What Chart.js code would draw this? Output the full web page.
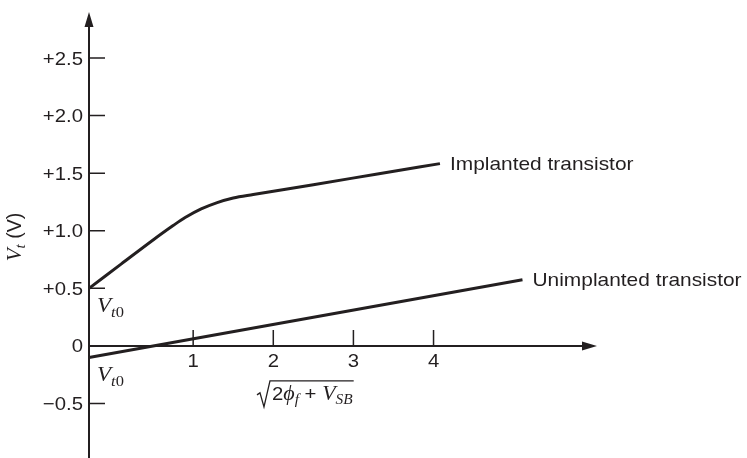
<!DOCTYPE html>
<html>
<head>
<meta charset="utf-8">
<script src="https://cdn.jsdelivr.net/npm/chart.js@4.4.1/dist/chart.umd.min.js"></script>
<style>
    html, body { margin: 0; padding: 0; background: #fff; }
    #wrap { width: 747px; height: 458px; }
</style>
</head>
<body>
<div id="wrap"><canvas id="myChart"></canvas></div>
<script>
// values; x is sqrt(2phi_f + V_SB), y is V_t in volts
const implantedX = [-0.3, 0.1, 0.5, 0.75, 0.9, 1.1, 1.3, 1.5, 1.75, 2.5, 3.3, 4.08];
const implantedY = [0.5, 0.71, 0.92, 1.045, 1.115, 1.19, 1.245, 1.285, 1.315, 1.4, 1.493, 1.583];
const unimplantedX = [-0.3, 5.11];
const unimplantedY = [-0.1, 0.574];

const seriesNames = ['Implanted transistor', 'Unimplanted transistor'];

const xTicks = [1, 2, 3, 4];
const xTickLabels = ['1', '2', '3', '4'];
const yTicks = [-0.5, 0, 0.5, 1, 1.5, 2, 2.5];
const yTickLabels = ['\u22120.5', '0', '+0.5', '+1.0', '+1.5', '+2.0', '+2.5'];

const ink = '#231f20';
const SANS = '"Liberation Sans", Arial, sans-serif';
const SERIF = '"Liberation Serif", "Times New Roman", serif';
const SX = 1.1; // the scanned figure is a little wider than tall

function toPoints(xs, ys) {
    return xs.map((v, i) => ({x: v, y: ys[i]}));
}

function runsWidth(ctx, runs) {
    let w = 0;
    runs.forEach(r => { ctx.font = r.font; w += ctx.measureText(r.text).width; });
    return w * SX;
}

// draws pieces of text (for subscripts / italics) on one baseline
function drawRuns(ctx, runs, x, y) {
    ctx.save();
    ctx.translate(x, y);
    ctx.scale(SX, 1);
    ctx.textAlign = 'left';
    ctx.textBaseline = 'alphabetic';
    let cx = 0;
    runs.forEach(r => {
        ctx.font = r.font;
        ctx.fillText(r.text, cx, r.dy || 0);
        cx += ctx.measureText(r.text).width;
    });
    ctx.restore();
}

const vt0 = [
    {text: 'V', font: 'italic 21px ' + SERIF},
    {text: 't', font: 'italic 15px ' + SERIF, dy: 5},
    {text: '0', font: '15px ' + SERIF, dy: 5},
];

const xTitle = [
    {text: '2', font: '18.5px ' + SANS},
    {text: '\u03D5', font: 'italic 20px ' + SERIF},
    {text: 'f', font: 'italic 14px ' + SERIF, dy: 4},
    {text: ' + ', font: '18.5px ' + SANS},
    {text: 'V', font: 'italic 20px ' + SERIF},
    {text: 'SB', font: 'italic 14px ' + SERIF, dy: 4},
];

const figurePlugin = {
    id: 'figure',
    beforeDatasetsDraw(chart) {
        const {ctx, chartArea: area, scales: {x, y}} = chart;
        const ax = area.left;
        const ay = y.getPixelForValue(0);
        ctx.save();
        ctx.strokeStyle = ink;
        ctx.fillStyle = ink;

        // axes with arrow heads
        ctx.lineWidth = 2;
        ctx.beginPath();
        ctx.moveTo(ax, chart.height);
        ctx.lineTo(ax, area.top + 10);
        ctx.moveTo(ax, ay);
        ctx.lineTo(area.right - 10, ay);
        ctx.stroke();
        ctx.beginPath();
        ctx.moveTo(ax, area.top);
        ctx.lineTo(ax - 4.5, area.top + 15);
        ctx.lineTo(ax + 4.5, area.top + 15);
        ctx.closePath();
        ctx.moveTo(area.right, ay);
        ctx.lineTo(area.right - 15, ay - 4.5);
        ctx.lineTo(area.right - 15, ay + 4.5);
        ctx.closePath();
        ctx.fill();

        // tick marks point into the plot
        ctx.lineWidth = 1.5;
        ctx.beginPath();
        yTicks.forEach(v => {
            const py = y.getPixelForValue(v);
            ctx.moveTo(ax, py);
            ctx.lineTo(ax + 16, py);
        });
        xTicks.forEach(v => {
            const px = x.getPixelForValue(v);
            ctx.moveTo(px, ay);
            ctx.lineTo(px, ay - 16);
        });
        ctx.stroke();

        // tick labels
        yTicks.forEach((v, i) => {
            const runs = [{text: yTickLabels[i], font: '18.5px ' + SANS}];
            drawRuns(ctx, runs, ax - 6 - runsWidth(ctx, runs), y.getPixelForValue(v) + 6.5);
        });
        xTicks.forEach((v, i) => {
            const runs = [{text: xTickLabels[i], font: '18.5px ' + SANS}];
            drawRuns(ctx, runs, x.getPixelForValue(v) - runsWidth(ctx, runs) / 2, ay + 21);
        });

        // x title: sqrt(2 phi_f + V_SB)
        const tw = runsWidth(ctx, xTitle);
        const cx = x.getPixelForValue(2.4);
        const tx = cx - tw / 2 + 7;
        const base = ay + 54;
        drawRuns(ctx, xTitle, tx, base);
        ctx.lineWidth = 1.3;
        ctx.beginPath();
        ctx.moveTo(tx - 15, base - 5);
        ctx.lineTo(tx - 12, base - 7);
        ctx.lineTo(tx - 8, base + 7);
        ctx.lineTo(tx - 2, base - 19);
        ctx.lineTo(tx + tw + 1, base - 19);
        ctx.stroke();

        // y title, rotated
        ctx.translate(21, (area.top + chart.height) / 2 + 2);
        ctx.rotate(-Math.PI / 2);
        const yTitle = [
            {text: 'V', font: 'italic 21px ' + SERIF},
            {text: 't', font: 'italic 15px ' + SERIF, dy: 4},
            {text: ' (V)', font: '19.5px ' + SANS},
        ];
        let w = 0;
        yTitle.forEach(r => { ctx.font = r.font; w += ctx.measureText(r.text).width; });
        let px = -w / 2;
        yTitle.forEach(r => {
            ctx.font = r.font;
            ctx.fillText(r.text, px, r.dy || 0);
            px += ctx.measureText(r.text).width;
        });
        ctx.restore();
    },
    afterDatasetsDraw(chart) {
        const {ctx} = chart;
        ctx.save();
        ctx.fillStyle = ink;
        chart.data.datasets.forEach((ds, i) => {
            const pts = chart.getDatasetMeta(i).data;
            const first = pts[0];
            const last = pts[pts.length - 1];
            drawRuns(ctx, vt0, first.x + 8, first.y + 23.5);
            drawRuns(ctx, [{text: ds.label, font: '19px ' + SANS}], last.x + 10, last.y + 6.5);
        });
        ctx.restore();
    }
};

new Chart(document.getElementById('myChart').getContext('2d'), {
    type: 'scatter',
    data: {
        datasets: [
            {
                label: seriesNames[0],
                data: toPoints(implantedX, implantedY),
                showLine: true,
                fill: false,
                borderColor: ink,
                borderWidth: 3,
                pointRadius: 0,
                cubicInterpolationMode: 'monotone',
                clip: false,
            },
            {
                label: seriesNames[1],
                data: toPoints(unimplantedX, unimplantedY),
                showLine: true,
                fill: false,
                borderColor: ink,
                borderWidth: 3,
                pointRadius: 0,
                clip: false,
            },
        ]
    },
    options: {
        responsive: true,
        maintainAspectRatio: false,
        animation: false,
        layout: {
            padding: {left: 89, right: 150, top: 12, bottom: 1}
        },
        plugins: {
            legend: {display: false},
            tooltip: {enabled: false},
        },
        scales: {
            x: {type: 'linear', min: -0.3, max: 6.04, display: false},
            y: {type: 'linear', min: -0.965, max: 2.9, display: false},
        },
        events: [],
    },
    plugins: [figurePlugin]
});
</script>
</body>
</html>
